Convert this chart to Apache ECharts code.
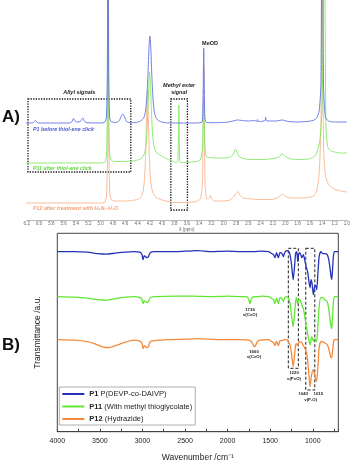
<!DOCTYPE html>
<html>
<head>
<meta charset="utf-8">
<script src="https://cdn.jsdelivr.net/npm/echarts@6/dist/echarts.min.js"></script>
<style>
  html, body { margin: 0; padding: 0; background: #fff; }
  #chart { width: 353px; height: 465px; }
</style>
</head>
<body>
<div id="chart"></div>
<script>
// ---- A) 1H NMR, [ppm, intensity above the spectrum's own baseline] ----
const nmrP1 = [
  [6.25, 0], [6.12, 0], [6.09, 0.5], [6.06, 2.5], [6.03, 0.5], [6.0, 0], [5.5, 0], [5.47, 1], [5.44, 4.5],
  [5.41, 1.5], [5.37, 1], [5.33, 1.5], [5.29, 5], [5.26, 1.5], [5.22, 0.3], [5.0, 0], [4.93, 1], [4.905, 6],
  [4.89, 60], [4.88, 300], [4.87, 60], [4.855, 6], [4.83, 1.5], [4.75, 0.5], [4.7, 2], [4.67, 6], [4.64, 9],
  [4.61, 6], [4.58, 1.5], [4.52, 0.3], [4.42, 0.5], [4.35, 2], [4.3, 5], [4.27, 12], [4.25, 25], [4.23, 50],
  [4.215, 75], [4.2, 87], [4.185, 75], [4.17, 50], [4.15, 25], [4.13, 12], [4.1, 5], [4.05, 2], [3.95, 0.3],
  [3.8, 0], [3.5, 0], [3.36, 0.5], [3.345, 4], [3.335, 30], [3.325, 75], [3.315, 30], [3.305, 4], [3.28, 0.5],
  [3.1, 0.3], [2.95, 0.8], [2.85, 2], [2.78, 3], [2.7, 2.5], [2.6, 2], [2.5, 2.5], [2.46, 1.5], [2.45, 3.5],
  [2.44, 1.5], [2.4, 1.5], [2.33, 2.5], [2.32, 6], [2.31, 2.5], [2.25, 2], [2.15, 2], [2.05, 3], [1.95, 1.5],
  [1.8, 1], [1.65, 1.5], [1.55, 2.5], [1.49, 5], [1.45, 12], [1.42, 40], [1.4, 300], [1.38, 40], [1.35, 6],
  [1.3, 2], [1.2, 1], [1.0, 1]
];
const nmrP11 = [
  [6.25, 0], [5.0, 0], [4.93, 1], [4.905, 8], [4.89, 55], [4.88, 300], [4.87, 55], [4.855, 10], [4.83, 3],
  [4.78, 1.5], [4.65, 1.5], [4.5, 2], [4.4, 3], [4.33, 5], [4.29, 9], [4.27, 15], [4.25, 28], [4.23, 55],
  [4.215, 80], [4.205, 91], [4.19, 78], [4.175, 52], [4.155, 28], [4.13, 16], [4.1, 11], [4.05, 8.5],
  [3.98, 6], [3.9, 3.5], [3.82, 1.5], [3.77, 0.5], [3.745, 3], [3.735, 30], [3.73, 58], [3.725, 30], [3.715, 3],
  [3.7, 0.5], [3.6, 0.5], [3.45, 1.5], [3.38, 3], [3.345, 15], [3.335, 45], [3.325, 65], [3.315, 40], [3.3, 10],
  [3.27, 6], [3.15, 5], [3.0, 5], [2.9, 6], [2.84, 9], [2.81, 14], [2.78, 10], [2.74, 6], [2.65, 4], [2.5, 3.5],
  [2.35, 3.5], [2.2, 4.5], [2.1, 6], [2.05, 9.5], [2.0, 6.5], [1.9, 4], [1.75, 3.5], [1.62, 4], [1.54, 6],
  [1.49, 10], [1.44, 22], [1.4, 60], [1.37, 300], [1.34, 35], [1.31, 16], [1.26, 12], [1.2, 11], [1.1, 10], [1.0, 10]
];
const nmrP12 = [
  [6.25, 0], [5.0, 0], [4.93, 1], [4.905, 7], [4.885, 55], [4.875, 300], [4.865, 55], [4.85, 8], [4.82, 3],
  [4.75, 2], [4.6, 2], [4.5, 2.5], [4.4, 3.5], [4.34, 6], [4.31, 12], [4.29, 22], [4.27, 45], [4.255, 85],
  [4.24, 113], [4.225, 85], [4.21, 48], [4.19, 24], [4.16, 12], [4.12, 7], [4.08, 5], [4.0, 3], [3.9, 1.5],
  [3.8, 0.5], [3.6, 0.5], [3.45, 1.5], [3.38, 4], [3.345, 20], [3.335, 80], [3.325, 136], [3.315, 75], [3.3, 14],
  [3.27, 4], [3.235, 5], [3.215, 7.5], [3.195, 4], [3.15, 2], [3.0, 2], [2.9, 3], [2.84, 6], [2.8, 10],
  [2.77, 11.5], [2.74, 8], [2.68, 5], [2.55, 4], [2.4, 3.5], [2.25, 3.5], [2.15, 4.5], [2.08, 7.5], [2.04, 9],
  [2.0, 6.5], [1.9, 5], [1.75, 5], [1.62, 5.5], [1.54, 7], [1.49, 12], [1.45, 30], [1.42, 80], [1.41, 300],
  [1.38, 60], [1.35, 28], [1.31, 20], [1.26, 16], [1.2, 14], [1.1, 12], [1.0, 11]
];
const nmrOffsets = [97, 57, 17];
const nmrLabels = ['P1 before thiol-ene click', 'P11 after thiol-ene click', 'P12 after treatment with H\u2084N\u2082-H\u2082O'];

// ---- B) FTIR, [wavenumber, transmittance change from baseline] ----
const irP1 = [
  [4000, 0], [3800, 0], [3650, -0.5], [3520, -2], [3430, -2.5], [3320, -1.5], [3200, -0.5], [3100, 0], [3030, -0.5],
  [3005, -3], [2993, -8], [2980, -4], [2965, -5], [2945, -6], [2930, -5], [2910, -1], [2860, 0], [2700, 0],
  [2500, 0.5], [2350, 1], [2200, 0], [2000, 0.5], [1850, 0], [1700, 0], [1600, 0.5], [1520, 0], [1490, -1.5],
  [1460, -3], [1444, -6], [1425, -1], [1404, -6], [1385, -1], [1360, -2], [1345, -5], [1330, -1], [1305, 1],
  [1280, 0], [1265, -4], [1248, -14], [1230, -28], [1215, -16], [1203, -3], [1192, 0], [1184, -2], [1176, -10],
  [1166, -3], [1155, -1], [1140, -3], [1128, -6], [1110, -3], [1095, -8], [1075, -16], [1060, -20], [1045, -30],
  [1032, -36], [1020, -28], [1008, -32], [993, -43], [978, -35], [965, -34], [953, -38], [940, -22], [925, -5],
  [906, 0], [880, -2], [855, -2], [830, -3], [812, -8], [798, -16], [785, -25], [777, -28], [768, -18],
  [758, -5], [745, 0], [700, 0]
];
const irP11 = [
  [4000, 0], [3800, -0.5], [3650, -1.5], [3520, -3], [3430, -3.5], [3320, -2], [3200, -0.5], [3100, 0], [3030, -1],
  [3005, -3], [2993, -7], [2980, -4], [2965, -5], [2945, -6], [2930, -5], [2910, -1], [2860, 0], [2600, 0.5],
  [2400, 0.5], [2200, 0], [2000, 0.5], [1850, 0], [1780, 0], [1755, -2], [1742, -6], [1736, -7], [1728, -4],
  [1712, -0.5], [1650, 0], [1600, 0.5], [1520, 0], [1490, -1.5], [1460, -3], [1444, -7], [1425, -1.5], [1404, -7],
  [1385, -1], [1360, -2], [1345, -5], [1330, -1], [1305, 0], [1280, -2], [1265, -8], [1248, -20], [1230, -30],
  [1215, -18], [1200, -4], [1190, -1], [1176, -8], [1166, -3], [1150, -3], [1130, -8], [1110, -12], [1090, -22],
  [1070, -32], [1050, -42], [1030, -48], [1012, -40], [995, -44], [975, -42], [955, -45], [940, -30], [925, -10],
  [906, -1], [880, -1], [855, -3], [830, -5], [812, -12], [798, -22], [785, -30], [777, -32], [768, -20],
  [758, -6], [745, 0], [700, 0]
];
const irP12 = [
  [4000, 0], [3800, -0.5], [3650, -2], [3550, -4.5], [3460, -7.5], [3400, -8], [3320, -6], [3200, -2.5], [3100, -0.5],
  [3030, -1.5], [3005, -4], [2993, -9], [2980, -6], [2965, -7], [2945, -8], [2930, -7], [2910, -2], [2860, -1],
  [2700, 0], [2500, 0.5], [2350, 1], [2200, 0.5], [2000, 0], [1850, 0], [1750, -0.5], [1720, -2], [1700, -5],
  [1685, -7], [1672, -6], [1650, -2], [1620, -0.5], [1520, 0], [1490, -1.5], [1460, -3], [1444, -6], [1425, -1.5],
  [1404, -6], [1385, -1], [1360, -1], [1330, 0], [1305, 0], [1285, -2], [1265, -6], [1248, -15], [1230, -27],
  [1215, -16], [1200, -5], [1190, -4], [1176, -6], [1166, -3], [1150, -2], [1130, -3], [1110, -6], [1085, -10],
  [1070, -14], [1050, -30], [1032, -47], [1015, -36], [995, -30], [975, -36], [955, -42], [940, -28], [925, -8],
  [906, -2], [890, -2], [860, -3], [830, -5], [812, -9], [798, -14], [788, -18], [777, -18], [768, -12],
  [758, -4], [745, 0], [700, 0]
];
const irOffsets = [180, 135, 92];
const irNames = ['P1 P(DEVP-co-DAIVP)', 'P11 (With methyl thioglycolate)', 'P12 (Hydrazide)'];

const nmrColors = ['#6373e4', '#82e866', '#f8b690'];
const nmrTextColors = ['#4a5cd0', '#5fd83c', '#f5a273'];
const irColors = ['#2532b8', '#62e634', '#f5893a'];
const font = '"Liberation Sans", Arial, sans-serif';

const shift = (pts, off) => pts.map(p => [p[0], p[1] + off]);

const chart = echarts.init(document.getElementById('chart'));

const nmrSeries = [nmrP1, nmrP11, nmrP12].map((d, i) => ({
  name: 'nmr' + i,
  type: 'line',
  xAxisIndex: 0,
  yAxisIndex: 0,
  data: shift(d, nmrOffsets[i]),
  showSymbol: false,
  smooth: 0.2,
  lineStyle: { width: 0.9, color: nmrColors[i] },
  itemStyle: { color: nmrColors[i] },
  z: 3 - i,
  silent: true
}));
nmrSeries[0].markArea = {
  silent: true,
  itemStyle: { color: 'rgba(0,0,0,0)', borderColor: '#111', borderWidth: 1.3, borderType: [1.3, 1.3] },
  label: { position: 'top', distance: 2, fontSize: 5.5, fontWeight: 'bold', fontStyle: 'italic', color: '#222', fontFamily: font, lineHeight: 7 },
  data: [
    [{ name: 'Allyl signals', coord: [6.18, 121] }, { coord: [4.51, 48] }],
    [{ name: 'Methyl ester\nsignal', coord: [3.86, 121] }, { coord: [3.59, 10] }]
  ]
};

const irSeries = [irP1, irP11, irP12].map((d, i) => ({
  name: irNames[i],
  type: 'line',
  xAxisIndex: 1,
  yAxisIndex: 1,
  data: shift(d, irOffsets[i]),
  showSymbol: false,
  smooth: 0.2,
  lineStyle: { width: 1.3, color: irColors[i] },
  itemStyle: { color: irColors[i] },
  silent: true
}));
irSeries[0].markArea = {
  silent: true,
  itemStyle: { color: 'rgba(0,0,0,0)', borderColor: '#222', borderWidth: 1, borderType: [3, 2] },
  data: [
    [{ coord: [1287, 183.4] }, { coord: [1169, 63.4] }],
    [{ coord: [1082, 183.4] }, { coord: [976, 41.7] }]
  ]
};

const txt = (x, y, text, f, fill, align) => ({
  type: 'text', x, y, silent: true,
  style: { text, font: f, fill, align: align || 'center', verticalAlign: 'middle' }
});
const small = 'bold 4.3px ' + font;

chart.setOption({
  animation: false,
  textStyle: { fontFamily: font },
  grid: [
    { left: 26.75, right: -5.25, top: 0, bottom: 245 },
    { left: 57.3, right: 14.7, top: 233.3, bottom: 33.3, show: true, borderColor: '#444', borderWidth: 1 }
  ],
  xAxis: [
    {
      gridIndex: 0, type: 'value', min: 1.0, max: 6.2, interval: 0.2, inverse: true,
      axisLine: { lineStyle: { color: '#aaa', width: 0.8 } },
      axisTick: { length: 2, lineStyle: { color: '#aaa', width: 0.6 } },
      minorTick: { show: true, splitNumber: 2, length: 1.2, lineStyle: { color: '#bbb', width: 0.6 } },
      splitLine: { show: false },
      axisLabel: { fontSize: 4.5, color: '#666', margin: 1.5, formatter: v => v.toFixed(1) },
      name: '\u03b4 (ppm)', nameLocation: 'middle', nameGap: 6,
      nameTextStyle: { fontSize: 4.5, color: '#666' }
    },
    {
      gridIndex: 1, type: 'value', min: 700, max: 4000, inverse: true,
      axisLine: { lineStyle: { color: '#444', width: 1 } },
      axisTick: { inside: true, length: 3, lineStyle: { color: '#444' } },
      minorTick: { show: true, splitNumber: 2, length: 3, lineStyle: { color: '#444' } },
      splitLine: { show: false },
      axisLabel: { fontSize: 7, color: '#222', margin: 6, showMinLabel: false, formatter: v => String(v) },
      name: 'Wavenumber /cm\u207b\u00b9', nameLocation: 'middle', nameGap: 21,
      nameTextStyle: { fontSize: 8.5, color: '#222' }
    }
  ],
  yAxis: [
    { gridIndex: 0, type: 'value', min: 0, max: 220, show: false },
    {
      gridIndex: 1, type: 'value', min: 0, max: 198.4,
      axisLine: { show: false }, axisTick: { show: false }, axisLabel: { show: false }, splitLine: { show: false },
      name: 'Transmittance /a.u.', nameLocation: 'middle', nameGap: 15,
      nameTextStyle: { fontSize: 8.5, color: '#222' }
    }
  ],
  legend: {
    data: irNames,
    orient: 'vertical',
    left: 59.3, top: 387,
    backgroundColor: '#fff',
    borderColor: '#999', borderWidth: 0.8,
    padding: [3, 3, 2, 3],
    itemGap: 4.5, itemWidth: 22, itemHeight: 2, icon: 'rect',
    selectedMode: false,
    textStyle: { fontSize: 7.5, color: '#222', rich: { b: { fontSize: 7.5, fontWeight: 'bold', color: '#222' } } },
    formatter: n => {
      const k = n.indexOf(' ');
      return '{b|' + n.slice(0, k) + '}' + n.slice(k);
    }
  },
  graphic: [
    txt(2, 117, 'A)', 'bold 17px ' + font, '#111', 'left'),
    txt(2, 345, 'B)', 'bold 17px ' + font, '#111', 'left'),
    txt(210, 43, 'MeOD', 'bold 5.5px ' + font, '#222'),
    txt(33, 130, nmrLabels[0], 'italic bold 5.3px ' + font, nmrTextColors[0], 'left'),
    txt(33, 169, nmrLabels[1], 'italic bold 5.3px ' + font, nmrTextColors[1], 'left'),
    txt(33, 209, nmrLabels[2], 'italic bold 5.3px ' + font, nmrTextColors[2], 'left'),
    txt(250, 310, '1736', small, '#222'),
    txt(250, 315, '\u03bd(C=O)', small, '#222'),
    txt(254, 352.3, '1660', small, '#222'),
    txt(254, 357.3, '\u03bd(C=O)', small, '#222'),
    txt(294, 373.3, '1220', small, '#222'),
    txt(294, 379, '\u03bd(P=O)', small, '#222'),
    txt(303.3, 394, '1043', small, '#222'),
    txt(318.3, 394, '1015', small, '#222'),
    txt(310.7, 399.5, '\u03bd(P-O)', small, '#222')
  ],
  series: nmrSeries.concat(irSeries)
});
</script>
</body>
</html>
